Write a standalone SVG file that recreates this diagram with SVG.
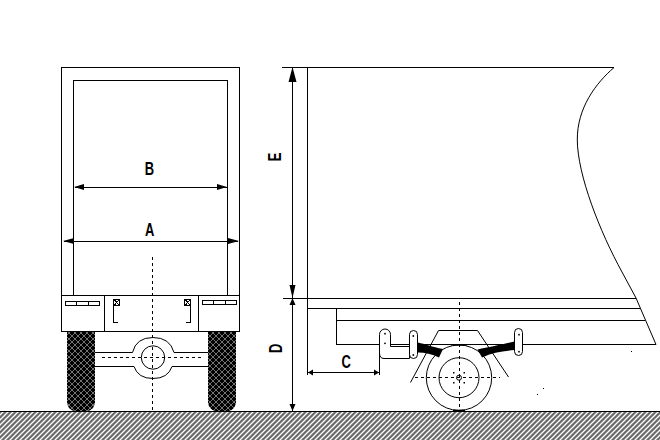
<svg xmlns="http://www.w3.org/2000/svg" width="660" height="440" viewBox="0 0 660 440">
<style>
.l{fill:none;stroke:#000;stroke-width:1;shape-rendering:crispEdges}
.c{fill:none;stroke:#000;stroke-width:1}
.w{fill:#fff;stroke:#000;stroke-width:1}
.d{fill:none;stroke:#000;stroke-width:1;stroke-dasharray:3 3;shape-rendering:crispEdges}
.a{fill:#000;stroke:none}
.t{font-family:"Liberation Sans",Arial,sans-serif;font-size:17.500px;font-weight:bold;fill:#000;text-anchor:middle}
</style>
<defs>
<pattern id="gh" width="5" height="5" patternUnits="userSpaceOnUse">
<rect width="5" height="5" fill="#6a6a6a"/>
<path d="M0 5L5 0M-2.500 2.500L2.500 -2.500M2.500 7.500L7.500 2.500" stroke="#fff" stroke-width="1.300"/>
</pattern>
<pattern id="th" width="6" height="6" patternUnits="userSpaceOnUse">
<rect width="6" height="6" fill="#000"/>
<path d="M0 6L6 0M0 0L6 6" stroke="#808080" stroke-width="0.900"/>
</pattern>
</defs>
<g id="ground">
<rect x="0" y="411" width="660" height="29" fill="url(#gh)"/>
<path class="l" d="M0 411.500H660"/>
</g>
<g id="rear-view">
<path id="tyre-left" d="M67 331H95V403Q93 411 87 411H75Q69 411 67 403Z" fill="url(#th)"/>
<path id="tyre-right" d="M208 331H236V403Q234 411 228 411H216Q210 411 208 403Z" fill="url(#th)"/>
<rect class="l" x="61.500" y="67.500" width="178" height="264"/>
<rect class="l" x="73.500" y="80.500" width="154" height="215"/>
<path class="l" d="M61.500 295.500H239.500M104.500 295.500V331.500M198.500 295.500V331.500"/>
<g id="lamp-left"><rect class="l" x="65.500" y="301.500" width="34" height="4"/><path class="l" d="M76.500 301.500V305.500M88.500 301.500V305.500"/></g>
<g id="lamp-right"><rect class="l" x="202.500" y="300.500" width="34" height="4"/><path class="l" d="M213.500 300.500V304.500M225.500 300.500V304.500"/></g>
<g id="bracket-left"><rect class="l" x="113.500" y="299.500" width="6" height="6"/><path class="l" d="M114 299.500L119.500 305.500M114 305.500L119.500 299.500M113.500 305.500V322.500H118"/></g>
<g id="bracket-right"><rect class="l" x="184.500" y="299.500" width="6" height="6"/><path class="l" d="M185 299.500L190.500 305.500M185 305.500L190.500 299.500M190.500 305.500V322.500H186"/></g>
<g id="axle">
<path class="c" d="M95 352.500H132.500Q136 337.500 153 337.500Q170 337.500 174 352.500H208"/>
<path class="c" d="M95 366.500H134Q138 378.500 153 378.500Q168 378.500 172 366.500H208"/>
<circle class="c" cx="153" cy="357.500" r="11.700"/>
<path class="d" d="M102 357.500H204"/>
</g>
<path class="d" d="M152.500 257V411"/>
</g>
<g id="side-view">
<path class="c" d="M614 67.500C596 83 577 108 577.300 140C577.500 175 600 232 622 272L636 298L656 344.500"/>
<path class="l" d="M282 67.500H614M307.500 67.500V375M283 298.500H636M307.500 308.500H640M336.500 320.500H645M336.500 308.500V344.500H379.500M390.500 344.500H409M417 344.500H656"/>
<path class="c" d="M438.500 330.500H477.500L508.500 377M438.500 330.500L410.500 382.500"/>
<g id="wheel">
<circle class="w" cx="459" cy="377.700" r="32.700"/>
<circle class="c" cx="459" cy="377.700" r="20"/>
<circle class="c" cx="459" cy="377.700" r="2.500"/>
<path class="a" d="M453 372h1.500v1.500H453zM463.500 372h1.500v1.500h-1.500zM453 382h1.500v1.500H453zM463.500 382h1.500v1.500h-1.500z"/>
<path class="d" d="M415 377.500H500"/>
<path class="d" d="M459.500 302V410"/>
<path d="M453 410.500H465" stroke="#000" stroke-width="1.500"/>
<path d="M451 344.800H467" stroke="#000" stroke-width="1.500"/>
</g>
<g id="spring">
<path class="a" d="M418 342.500C425 344 432 347 443 349L439 357.500C432 354 425 352.500 418 352.500Z"/>
<path class="a" d="M514.500 341.500C500 345 490 347 477.500 349.500L482 357.500C492 352.500 503 351 514.500 350Z"/>
</g>
<g id="shackle-front">
<path class="w" d="M379.500 375V334.500A5.300 5.300 0 0 1 390.500 334.500V346.500H409.500V358.500H384Q379.500 358.500 379.500 353"/>
<circle class="a" cx="385" cy="333.700" r="0.900"/>
<circle class="a" cx="385" cy="343.300" r="0.900"/>
</g>
<g id="shackle-mid">
<rect class="w" x="409.500" y="330.500" width="8" height="28" rx="4"/>
<circle class="a" cx="413.300" cy="336" r="0.900"/>
<circle class="a" cx="413.300" cy="355" r="0.900"/>
</g>
<g id="shackle-rear">
<rect class="w" x="514.500" y="328.500" width="8" height="27" rx="4"/>
<circle class="a" cx="519" cy="334.700" r="0.900"/>
<circle class="a" cx="519" cy="351.700" r="0.900"/>
</g>
<path class="a" d="M631 351h1v1h-1zM543 388h1v1h-1zM537 394h1v1h-1z"/>
</g>
<g id="connectors">
<path class="l" d="M75 187H227M64 241H238"/>
<path class="a" d="M74 187L84 184V190ZM227 187L217 184V190ZM63 241L74 238V244ZM239 241L228 238V244Z"/>
<path class="l" d="M292.500 68V298M292.500 298V411"/>
<path class="a" d="M292.500 67L296.500 82H288.500ZM292.500 298L289.500 285H295.500ZM292.500 298L289.500 305H295.500ZM292.500 411L289.500 404H295.500Z"/>
<path class="l" d="M308 372.500H379"/>
<path class="a" d="M308 372.500L313 369.500V375.500ZM379 372.500L374 369.500V375.500Z"/>
</g>
<g id="labels">
<text class="t" transform="translate(149.300 175) scale(.74 1)">B</text>
<text class="t" transform="translate(149.700 236) scale(.74 1)">A</text>
<text class="t" transform="translate(346.200 368.300) scale(.74 1)">C</text>
<text class="t" transform="translate(280.500 157) rotate(-90) scale(.74 1)">E</text>
<text class="t" transform="translate(282 348.300) rotate(-90) scale(.74 1)">D</text>
</g>
</svg>
